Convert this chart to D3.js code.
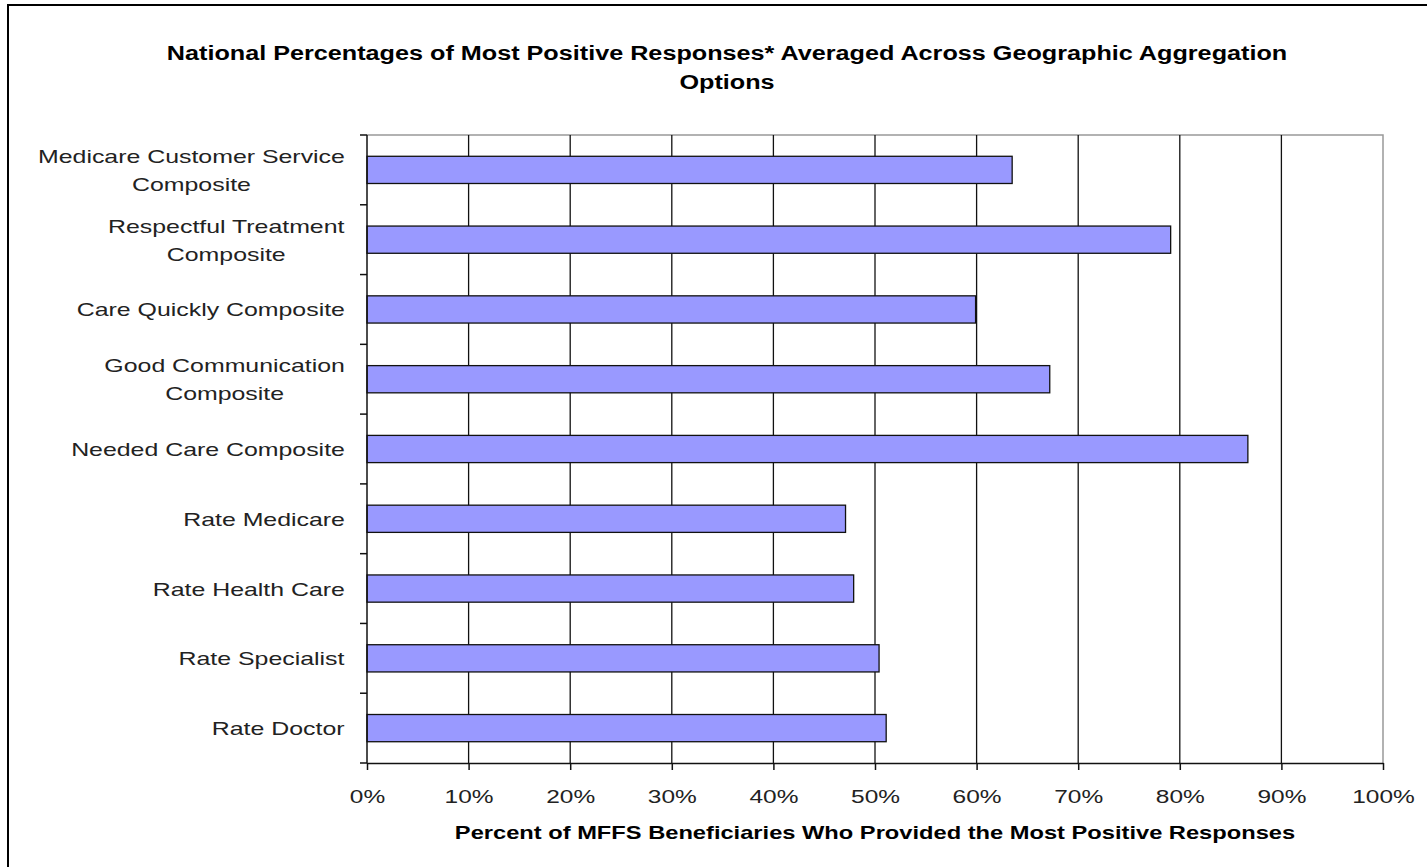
<!DOCTYPE html>
<html>
<head>
<meta charset="utf-8">
<script src="https://cdn.jsdelivr.net/npm/d3@7"></script>
<style>
  html, body { margin: 0; padding: 0; background: #fff; }
  svg { display: block; }
</style>
</head>
<body>
<svg id="chart" width="1427" height="867"></svg>
<script>
// Survey composites and ratings, top to bottom
const categories = [
  ["Medicare Customer Service", "Composite"],
  ["Respectful Treatment", "Composite"],
  ["Care Quickly Composite"],
  ["Good Communication", "Composite"],
  ["Needed Care Composite"],
  ["Rate Medicare"],
  ["Rate Health Care"],
  ["Rate Specialist"],
  ["Rate Doctor"]
];
// Share of beneficiaries giving the most positive response (%)
const values = [63.5, 79.1, 59.9, 67.2, 86.7, 47.1, 47.9, 50.4, 51.1];
const xTicks = [0, 10, 20, 30, 40, 50, 60, 70, 80, 90, 100];
const titleLines = [
  "National Percentages of Most Positive Responses* Averaged Across Geographic Aggregation",
  "Options"
];
const xTitle = "Percent of MFFS Beneficiaries Who Provided the Most Positive Responses";

const svg = d3.select("#chart");
const font = "Arial, 'Liberation Sans', Helvetica, sans-serif";

const plot = { left: 367, right: 1383, top: 135, bottom: 763 };

// Outer frame
svg.append("rect")
  .attr("x", 8).attr("y", 5)
  .attr("width", 1440).attr("height", 900)
  .attr("fill", "#fff").attr("stroke", "#000").attr("stroke-width", 2);

const x = d3.scaleLinear().domain([0, 100]).range([plot.left, plot.right]);
const y = d3.scaleBand()
  .domain(d3.range(categories.length))
  .range([plot.top, plot.bottom])
  .paddingInner(0.61).paddingOuter(0.305);
const band = d3.scaleBand()
  .domain(d3.range(categories.length))
  .range([plot.top, plot.bottom]);

// Wide-set text: glyphs are drawn horizontally stretched
function wideText(parent, str, px, py, size, sx, bold) {
  return parent.append("text")
    .attr("transform", `translate(${px},${py}) scale(${sx},1)`)
    .attr("text-anchor", "middle")
    .attr("font-family", font)
    .attr("font-weight", bold ? "bold" : "normal")
    .attr("font-size", size)
    .attr("fill", bold ? "#000" : "#222")
    .text(str);
}

// Title
const gTitle = svg.append("g");
titleLines.forEach((t, i) => wideText(gTitle, t, 727, 60 + i * 29, 21, 1.2, true));

// Plot frame (top and right edges are light gray)
svg.append("path")
  .attr("d", `M${plot.left},${plot.top}H${plot.right}V${plot.bottom}`)
  .attr("fill", "none").attr("stroke", "#999").attr("stroke-width", 1.5);

// Vertical gridlines
svg.append("g").selectAll("line").data(xTicks.filter(t => t > 0 && t < 100)).join("line")
  .attr("x1", d => x(d)).attr("x2", d => x(d))
  .attr("y1", plot.top).attr("y2", plot.bottom)
  .attr("stroke", "#111").attr("stroke-width", 1.3);

// Bars
svg.append("g").selectAll("rect").data(values).join("rect")
  .attr("x", x(0))
  .attr("y", (d, i) => y(i))
  .attr("width", d => x(d) - x(0))
  .attr("height", y.bandwidth())
  .attr("fill", "#9999ff")
  .attr("stroke", "#111").attr("stroke-width", 1.3);

// X axis
const xAxis = d3.axisBottom(x).tickValues(xTicks).tickFormat(d => d + "%")
  .tickSize(7).tickSizeOuter(0).tickPadding(0);
const gx = svg.append("g").attr("transform", `translate(0,${plot.bottom})`).call(xAxis);
gx.select(".domain").attr("stroke", "#111").attr("stroke-width", 1.5);
gx.selectAll(".tick line").attr("stroke", "#111").attr("stroke-width", 1.5);
gx.selectAll(".tick text")
  .attr("y", 40).attr("dy", null)
  .attr("transform", "scale(1.36,1)")
  .attr("font-family", font).attr("font-size", 18).attr("fill", "#222");

// Y axis: ticks sit on category boundaries
const boundaries = d3.range(categories.length + 1).map(i =>
  i < categories.length ? band(i) : plot.bottom);
svg.append("line")
  .attr("x1", plot.left).attr("x2", plot.left)
  .attr("y1", plot.top).attr("y2", plot.bottom)
  .attr("stroke", "#111").attr("stroke-width", 1.5);
svg.append("g").selectAll("line").data(boundaries).join("line")
  .attr("x1", plot.left - 7).attr("x2", plot.left)
  .attr("y1", d => d).attr("y2", d => d)
  .attr("stroke", "#111").attr("stroke-width", 1.5);

// Category labels: centred lines, block right-aligned against the axis
const labelScale = 1.31;
const labels = svg.append("g").selectAll("text").data(categories).join("text")
  .attr("text-anchor", "middle")
  .attr("font-family", font).attr("font-size", 19).attr("fill", "#222");
labels.each(function(lines, i) {
  const cy = y(i) + y.bandwidth() / 2;
  const lh = 28;
  const y0 = cy - (lines.length - 1) * lh / 2 + 7;
  d3.select(this).selectAll("tspan").data(lines).join("tspan")
    .attr("x", 0).attr("y", (d, k) => y0 + k * lh)
    .text(d => d);
});
labels.each(function() {
  const bb = this.getBBox();
  d3.select(this).attr("transform",
    `translate(${345 - bb.width * labelScale / 2},0) scale(${labelScale},1)`);
});

// X axis title
wideText(svg, xTitle, (plot.left + plot.right) / 2, 839, 18.5, 1.28, true);
</script>
</body>
</html>
